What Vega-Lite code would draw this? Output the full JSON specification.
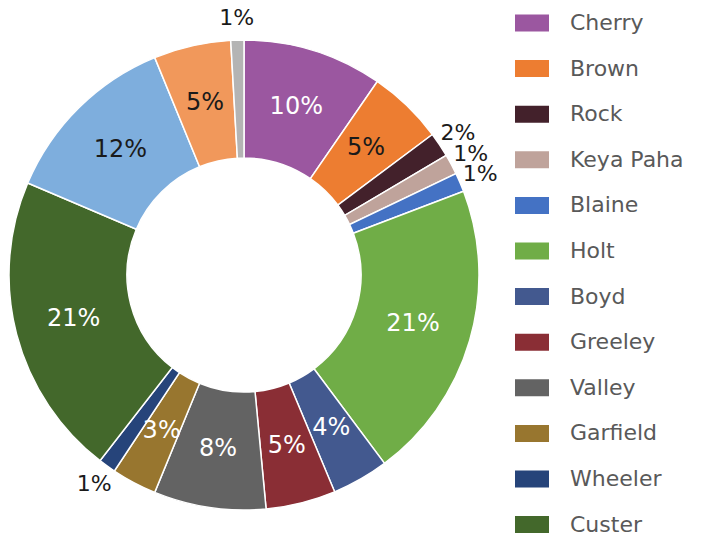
{
  "$schema": "https://vega.github.io/schema/vega-lite/v6.json",
  "autosize": "none",
  "width": 488,
  "height": 522,
  "padding": {"left": 0, "top": 14, "right": 226, "bottom": 0},
  "background": "white",
  "config": {"view": {"stroke": null}, "font": "DejaVu Sans"},
  "data": {"values": [
    {"idx": 1, "name": "Cherry", "share": 0.096},
    {"idx": 2, "name": "Brown", "share": 0.052},
    {"idx": 3, "name": "Rock", "share": 0.017},
    {"idx": 4, "name": "Keya Paha", "share": 0.014},
    {"idx": 5, "name": "Blaine", "share": 0.013},
    {"idx": 6, "name": "Holt", "share": 0.206},
    {"idx": 7, "name": "Boyd", "share": 0.039},
    {"idx": 8, "name": "Greeley", "share": 0.048},
    {"idx": 9, "name": "Valley", "share": 0.077},
    {"idx": 10, "name": "Garfield", "share": 0.031},
    {"idx": 11, "name": "Wheeler", "share": 0.012},
    {"idx": 12, "name": "Custer", "share": 0.209},
    {"idx": 13, "name": "Loup", "share": 0.124},
    {"idx": 14, "name": "Sherman", "share": 0.053},
    {"idx": 15, "name": "Antelope", "share": 0.009}
  ]},
  "encoding": {
    "theta": {"field": "share", "type": "quantitative", "stack": true, "scale": {"domain": [0, 1]}},
    "order": {"field": "idx", "type": "quantitative"}
  },
  "layer": [
    {
      "mark": {"type": "arc", "radius": 235, "innerRadius": 117, "stroke": "white", "strokeWidth": 1.5},
      "encoding": {
        "color": {
          "field": "name", "type": "nominal",
          "scale": {
            "domain": ["Cherry", "Brown", "Rock", "Keya Paha", "Blaine", "Holt", "Boyd", "Greeley", "Valley", "Garfield", "Wheeler", "Custer", "Loup", "Sherman", "Antelope"],
            "range": ["#9B57A0", "#ED7D31", "#43212B", "#BFA39B", "#4472C4", "#70AD47", "#43598F", "#8A2E35", "#636363", "#98762F", "#26447A", "#43682B", "#7EAEDD", "#F1985B", "#B4B4B4"]
          },
          "legend": {
            "values": ["Cherry", "Brown", "Rock", "Keya Paha", "Blaine", "Holt", "Boyd", "Greeley", "Valley", "Garfield", "Wheeler", "Custer"],
            "title": null,
            "orient": "none",
            "legendX": 515,
            "legendY": -8,
            "symbolType": "M-1,-0.5H1V0.5H-1Z",
            "symbolSize": 1156,
            "symbolStrokeWidth": 0,
            "symbolOpacity": 1,
            "labelFontSize": 22,
            "labelColor": "#595959",
            "labelOffset": 21,
            "rowPadding": 17.6,
            "labelLimit": 300
          }
        }
      }
    },
    {
      "mark": {"type": "text", "radius": 176, "fontSize": 24},
      "encoding": {
        "detail": {"field": "name", "type": "nominal"},
        "text": {"condition": {"test": "datum.share >= 0.02", "field": "share", "type": "quantitative", "format": ".0%"}, "value": ""},
        "color": {"condition": {"test": "indexof(['Brown','Loup','Sherman'], datum.name) >= 0", "value": "#1a1a1a"}, "value": "white"}
      }
    },
    {
      "mark": {"type": "text", "radius": 257, "fontSize": 22, "color": "#1a1a1a"},
      "encoding": {
        "detail": {"field": "name", "type": "nominal"},
        "text": {"condition": {"test": "datum.share < 0.02", "field": "share", "type": "quantitative", "format": ".0%"}, "value": ""}
      }
    }
  ]
}
